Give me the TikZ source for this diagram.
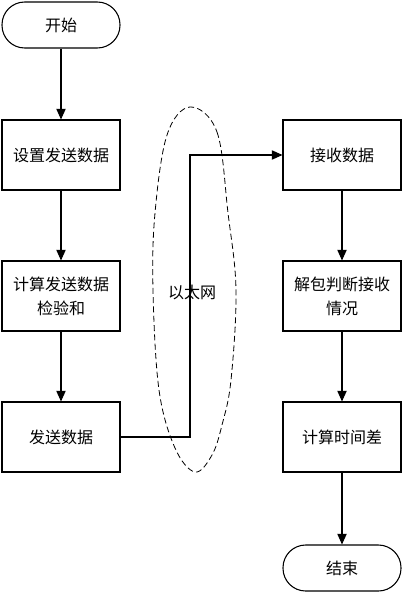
\documentclass[tikz,border=0pt]{standalone}
\usepackage{fontspec}
\setmainfont{Noto Sans CJK SC}
\usetikzlibrary{arrows.meta}

\begin{document}
\begin{tikzpicture}[->,
            >={Triangle[length=8pt,width=7pt]},
            x=0.75pt, y=-0.75pt,
            line width=0.8pt,
            node distance=105.75pt,
            font=\fontsize{12pt}{18pt}\selectfont,
            terminal/.style={draw, rounded corners=17pt,
                             minimum width=88.5pt, minimum height=34.5pt},
            stepbox/.style={draw, align=center,
                            minimum width=88.5pt, minimum height=52.5pt},
            cloud/.style={-, dash pattern=on 4.5pt off 2.5pt, line width=0.6pt}]

        \useasboundingbox (0,0) rectangle (403,592);

        % sender
        \node[terminal] (start) at (61,25)                              {开始};
        \node[stepbox]  (set)  [below of=start, node distance=97.5pt]   {设置发送数据};
        \node[stepbox]  (sum)  [below of=set]                           {计算发送数据\\检验和};
        \node[stepbox]  (send) [below of=sum]                           {发送数据};

        % receiver
        \node[stepbox]  (recv)   at (342,155)                           {接收数据};
        \node[stepbox]  (unpack) [below of=recv]                        {解包判断接收\\情况};
        \node[stepbox]  (delay)  [below of=unpack]                      {计算时间差};
        \node[terminal] (stop)   [below of=delay, node distance=98.25pt] {结束};

        % network
        \draw[cloud] plot[smooth cycle, tension=0.6] coordinates
            {(190,107) (217,132) (228,213) (236,290) (231,380) (222,425)
             (212,455) (195,472) (175,448) (159,390) (153,290) (155,213) (167,135)};
        \node (eth) at (192,292) {以太网};
        \coordinate (hop) at (190,155);

        \path (start)  edge (set)
              (set)    edge (sum)
              (sum)    edge (send)
              (recv)   edge (unpack)
              (unpack) edge (delay)
              (delay)  edge (stop);

        \draw (send) -| (hop) -- (recv);

    \end{tikzpicture}
\end{document}
